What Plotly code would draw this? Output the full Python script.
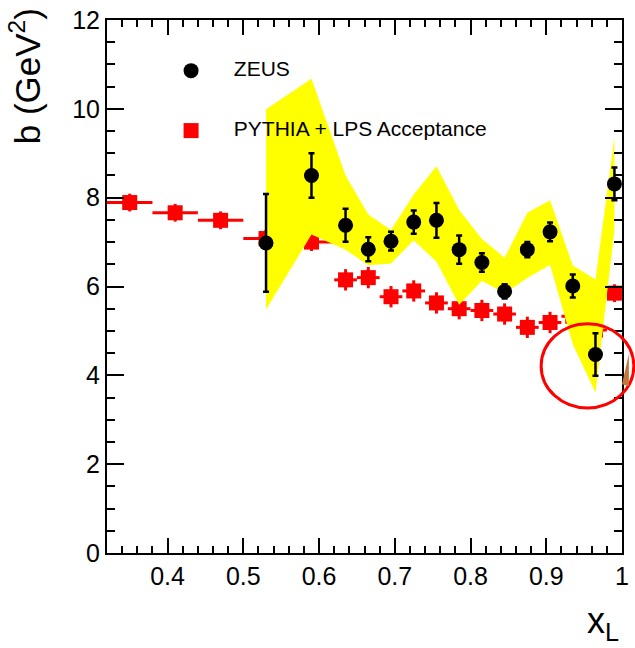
import plotly.graph_objects as go

# ZEUS measurement: slope b versus x_L
zeus_x = [0.53, 0.59, 0.635, 0.665, 0.695, 0.725, 0.755, 0.785, 0.815, 0.845, 0.875, 0.905, 0.935, 0.965, 0.99]
zeus_b = [6.98, 8.50, 7.38, 6.84, 7.02, 7.45, 7.49, 6.83, 6.54, 5.89, 6.83, 7.23, 6.01, 4.47, 8.31]
zeus_err = [1.10, 0.50, 0.37, 0.27, 0.21, 0.26, 0.39, 0.32, 0.21, 0.16, 0.17, 0.21, 0.26, 0.48, 0.37]

# systematic band around the ZEUS points
band_upper = [9.99, 10.68, 8.50, 7.62, 7.27, 8.07, 8.71, 7.72, 7.07, 6.65, 7.66, 7.94, 6.47, 6.16, 9.36]
band_lower = [5.48, 7.17, 6.83, 6.48, 6.52, 7.04, 6.56, 5.59, 6.13, 5.85, 6.19, 6.49, 4.70, 3.61, 7.28]

# PYTHIA + LPS acceptance
mc_x = [0.35, 0.41, 0.47, 0.53, 0.59, 0.635, 0.665, 0.695, 0.725, 0.755, 0.785, 0.815, 0.845, 0.875, 0.905, 0.935, 0.965, 0.99]
mc_b = [7.89, 7.66, 7.49, 7.08, 7.00, 6.15, 6.20, 5.77, 5.90, 5.63, 5.50, 5.46, 5.38, 5.08, 5.19, 5.33, 5.02, 5.85]
mc_xerr = [0.03, 0.03, 0.03, 0.03, 0.03, 0.015, 0.015, 0.015, 0.015, 0.015, 0.015, 0.015, 0.015, 0.015, 0.015, 0.015, 0.015, 0.01]
mc_berr = [0.2, 0.2, 0.2, 0.2, 0.2, 0.24, 0.24, 0.24, 0.24, 0.24, 0.24, 0.24, 0.24, 0.24, 0.24, 0.24, 0.24, 0.2]

legend_labels = ["ZEUS", "PYTHIA + LPS Acceptance"]

FONT = "Liberation Sans, Arial, Helvetica, sans-serif"

fig = go.Figure()

# MC points
fig.add_trace(go.Scatter(
    x=mc_x, y=mc_b, mode="markers",
    marker=dict(symbol="square", size=15, color="#ff0000"),
    error_x=dict(type="data", array=mc_xerr, color="#ff0000", thickness=3, width=0),
    error_y=dict(type="data", array=mc_berr, color="#ff0000", thickness=3, width=0),
    showlegend=False))

# yellow systematic band
fig.add_trace(go.Scatter(
    x=zeus_x + zeus_x[::-1], y=band_upper + band_lower[::-1],
    mode="lines", fill="toself", fillcolor="#ffff00",
    line=dict(width=0, color="#ffff00"), showlegend=False, hoverinfo="skip"))

# ZEUS points
fig.add_trace(go.Scatter(
    x=zeus_x, y=zeus_b, mode="markers",
    marker=dict(symbol="circle", size=15, color="black"),
    error_y=dict(type="data", array=zeus_err, color="black", thickness=2.5, width=3),
    showlegend=False))

# legend entries drawn inside the frame
fig.add_trace(go.Scatter(
    x=[0.431], y=[10.86], mode="markers",
    marker=dict(symbol="circle", size=15, color="black"),
    showlegend=False, hoverinfo="skip", cliponaxis=False))
fig.add_trace(go.Scatter(
    x=[0.431], y=[9.51], mode="markers",
    marker=dict(symbol="square", size=15, color="#ff0000"),
    showlegend=False, hoverinfo="skip", cliponaxis=False))
fig.add_trace(go.Scatter(
    x=[0.4875, 0.4875], y=[10.86, 9.51], mode="text",
    text=legend_labels, textposition="middle right",
    textfont=dict(family=FONT, size=21, color="black"),
    showlegend=False, hoverinfo="skip", cliponaxis=False))

axis_common = dict(
    showgrid=False, zeroline=False, showline=True, linecolor="black", linewidth=2,
    mirror="ticks", ticks="inside", tickcolor="black", tickwidth=2,
    tickfont=dict(family=FONT, size=25, color="black"),
)

fig.update_xaxes(
    range=[0.32, 1.0], tickvals=[0.4, 0.5, 0.6, 0.7, 0.8, 0.9, 1.0],
    ticktext=["0.4", "0.5", "0.6", "0.7", "0.8", "0.9", "1"], ticklen=15,
    minor=dict(dtick=0.02, tick0=0.0, ticks="inside", ticklen=7, tickcolor="black", tickwidth=1.5),
    **axis_common)
fig.update_yaxes(
    range=[0, 12], tickvals=[0, 2, 4, 6, 8, 10, 12], ticklen=17,
    minor=dict(dtick=0.5, tick0=0, ticks="inside", ticklen=8, tickcolor="black", tickwidth=1.5),
    **axis_common)

fig.update_layout(
    width=635, height=648,
    margin=dict(l=107, r=6, t=16, b=95),
    paper_bgcolor="white", plot_bgcolor="white",
    annotations=[
        dict(text="b (GeV<sup>2</sup>)", textangle=-90, xref="paper", yref="paper",
             x=-0.16, y=1.025, xanchor="center", yanchor="top", showarrow=False,
             font=dict(family=FONT, size=35, color="black")),
        dict(text="x<sub>L</sub>", xref="paper", yref="paper",
             x=0.998, y=-0.085, xanchor="right", yanchor="top", showarrow=False,
             font=dict(family=FONT, size=36, color="black")),
    ],
    shapes=[
        dict(type="circle", xref="paper", yref="paper",
             x0=0.843, x1=1.023, y0=0.272, y1=0.430,
             line=dict(color="#ff0000", width=3)),
        dict(type="path", xref="paper", yref="paper",
             path="M 1.0 0.3166 L 1.0134 0.374 L 1.0134 0.3128 Z",
             fillcolor="#c0783a", line=dict(width=0)),
    ],
)

fig.write_html("out.html")
